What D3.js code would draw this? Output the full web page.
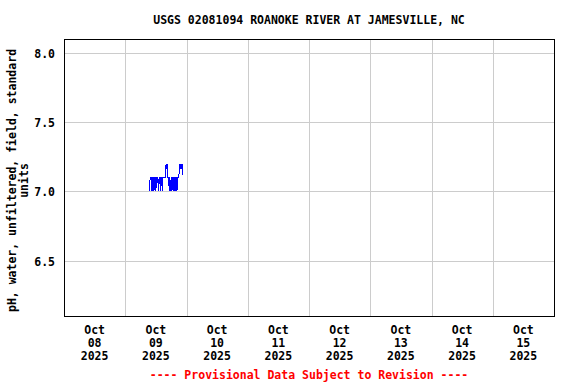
<!DOCTYPE html>
<html><head><meta charset="utf-8">
<script src="https://cdn.jsdelivr.net/npm/d3@7"></script>
<style>body{margin:0;background:#fff}svg{display:block}text{font-family:"DejaVu Sans Mono",monospace;font-weight:bold}</style>
</head><body><svg id="c" width="576" height="384"></svg>
<script>
const title = "USGS 02081094 ROANOKE RIVER AT JAMESVILLE, NC";
const yLabelLines = ["pH, water, unfiltered, field, standard", "units"];
const footnote = "---- Provisional Data Subject to Revision ----";
const yTicks = [6.5, 7.0, 7.5, 8.0];
const yDomain = [6.1, 8.1];
const xDomain = ["2025-10-08T00:00", "2025-10-16T00:00"];
const dayTicks = ["2025-10-08","2025-10-09","2025-10-10","2025-10-11","2025-10-12","2025-10-13","2025-10-14","2025-10-15"];
const times = ["09:30","09:45","10:00","10:15","10:30","10:45","11:00","11:15","11:30","11:45",
 "12:00","12:15","12:30","12:45","13:00","13:15","13:30","13:45","14:00","14:15",
 "14:30","14:45","15:00","15:15","15:30","15:45","16:00","16:15","16:30","16:45",
 "17:00","17:15","17:30","17:45","18:00","18:15","18:30","18:45","19:00","19:15",
 "19:30","19:45","20:00","20:15","20:30","20:45","21:00","21:15","21:30","21:45",
 "22:00","22:15","22:30"];
const phValues = [7.0,7.1,7.1,7.1,7.0,7.1,7.1,7.0,7.1,7.1,
 7.0,7.1,7.1,7.1,7.0,7.1,7.1,7.0,7.1,7.1,
 7.0,7.1,7.1,7.1,7.1,7.1,7.2,7.16,7.2,7.1,
 7.1,7.0,7.1,7.0,7.1,7.0,7.1,7.0,7.1,7.1,
 7.0,7.1,7.1,7.0,7.1,7.1,7.1,7.2,7.16,7.2,
 7.16,7.2,7.12];
const dataDay = "2025-10-09";

const svg = d3.select("#c");
const L = 64, R = 554, T = 39, B = 316;
const parseT = d3.utcParse("%Y-%m-%dT%H:%M");
const parseD = d3.utcParse("%Y-%m-%d");
const x = d3.scaleUtc().domain(xDomain.map(parseT)).range([L, R]);
const y = d3.scaleLinear().domain(yDomain).range([B, T]);

// grid
const g = svg.append("g").attr("shape-rendering", "crispEdges");
dayTicks.slice(1).forEach(d => {
  const xx = Math.round(x(parseD(d))) + 0.5;
  g.append("line").attr("x1", xx).attr("x2", xx).attr("y1", T).attr("y2", B).attr("stroke", "#cccccc");
});
yTicks.forEach(v => {
  const yy = Math.round(y(v)) + 0.5;
  g.append("line").attr("x1", L).attr("x2", R).attr("y1", yy).attr("y2", yy).attr("stroke", "#cccccc");
  svg.append("text").attr("x", 55).attr("y", yy).attr("dy", "0.35em").attr("text-anchor", "end")
    .attr("font-size", 11.5).text(v.toFixed(1));
});

// data
const pts = times.map((t, i) => [parseT(dataDay + "T" + t), phValues[i]]);
svg.append("path").datum(pts)
  .attr("d", d3.line().x(d => x(d[0])).y(d => y(d[1])))
  .attr("fill", "none").attr("stroke", "#0000ff").attr("stroke-width", 1)
  .attr("shape-rendering", "crispEdges");

// frame
svg.append("rect").attr("x", L + 0.5).attr("y", T + 0.5).attr("width", R - L).attr("height", B - T)
  .attr("fill", "none").attr("stroke", "#000").attr("stroke-width", 1).attr("shape-rendering", "crispEdges");

// x labels
const fmtM = d3.utcFormat("%b"), fmtD = d3.utcFormat("%d"), fmtY = d3.utcFormat("%Y");
dayTicks.forEach(d => {
  const dt = parseD(d);
  const cx = x(new Date(dt.getTime() + 12 * 3600e3));
  const t = svg.append("text").attr("text-anchor", "middle").attr("font-size", 11.5);
  t.append("tspan").attr("x", cx).attr("y", 334).text(fmtM(dt));
  t.append("tspan").attr("x", cx).attr("y", 347).text(fmtD(dt));
  t.append("tspan").attr("x", cx).attr("y", 360).text(fmtY(dt));
});

// title
svg.append("text").attr("x", (L + R) / 2).attr("y", 24).attr("text-anchor", "middle")
  .attr("font-size", 11.5).text(title);

// y label
const yl = svg.append("text").attr("transform", `translate(16,${(T + B) / 2 + 3}) rotate(-90)`)
  .attr("text-anchor", "middle").attr("font-size", 11.5);
yl.append("tspan").attr("x", 0).attr("y", 0).text(yLabelLines[0]);
yl.append("tspan").attr("x", 0).attr("y", 12).text(yLabelLines[1]);

// footnote
svg.append("text").attr("x", (L + R) / 2).attr("y", 379).attr("text-anchor", "middle")
  .attr("font-size", 11.5).attr("fill", "#ff0000").text(footnote);
</script></body></html>
